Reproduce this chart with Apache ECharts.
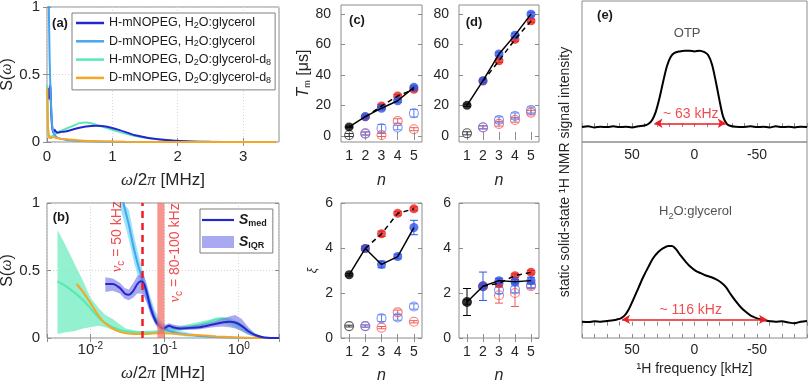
<!DOCTYPE html>
<html>
<head>
<meta charset="utf-8">
<title>Spectral density, T_m and 1H spectra</title>
<script src="https://cdn.jsdelivr.net/npm/echarts@6.0.0/dist/echarts.min.js"></script>
<style>
  html, body { margin: 0; padding: 0; background: #ffffff; }
  #chart { width: 809px; height: 386px; }
</style>
</head>
<body>
<div id="chart"></div>
<script>
// ---------- (a), (b): spectral density S(w) vs w/2pi [MHz] ----------
// H-mNOPEG, H2O:glycerol  (median + interquartile range in (b))
const hhFreq = [0.0159, 0.02, 0.025, 0.029, 0.033, 0.038, 0.043, 0.048, 0.053, 0.058, 0.065, 0.075, 0.085, 0.095, 0.105, 0.115, 0.13, 0.16, 0.22, 0.3, 0.45, 0.6, 0.75, 0.9, 1.1, 1.35, 1.7, 2.2, 3.5];
const hhS   = [0.40, 0.40, 0.37, 0.33, 0.32, 0.35, 0.40, 0.42, 0.40, 0.33, 0.22, 0.13, 0.09, 0.07, 0.08, 0.09, 0.08, 0.07, 0.075, 0.08, 0.10, 0.115, 0.12, 0.115, 0.09, 0.05, 0.02, 0.004, 0];
const hhLo  = [0.34, 0.35, 0.33, 0.29, 0.28, 0.30, 0.33, 0.33, 0.31, 0.26, 0.17, 0.10, 0.06, 0.05, 0.06, 0.07, 0.065, 0.06, 0.06, 0.065, 0.08, 0.085, 0.08, 0.07, 0.05, 0.025, 0.008, 0.001, 0];
const hhHi  = [0.45, 0.44, 0.41, 0.37, 0.36, 0.41, 0.46, 0.47, 0.46, 0.39, 0.27, 0.16, 0.12, 0.10, 0.10, 0.11, 0.10, 0.09, 0.09, 0.10, 0.12, 0.145, 0.16, 0.17, 0.14, 0.08, 0.03, 0.008, 0];

// D-mNOPEG, H2O:glycerol
const dhFreq = [0.02, 0.024, 0.028, 0.033, 0.038, 0.043, 0.048, 0.055, 0.065, 0.075, 0.085, 0.1, 0.12, 0.15, 0.2, 0.3, 0.5, 1.0, 2.0, 3.5];
const dhS    = [1.6, 1.25, 1.0, 0.84, 0.68, 0.56, 0.47, 0.36, 0.24, 0.15, 0.10, 0.07, 0.05, 0.035, 0.025, 0.015, 0.008, 0.002, 0, 0];
const dhLo   = [1.42, 1.1, 0.88, 0.73, 0.58, 0.47, 0.39, 0.29, 0.18, 0.11, 0.07, 0.045, 0.03, 0.02, 0.012, 0.006, 0.002, 0, 0, 0];
const dhHi   = [1.8, 1.4, 1.12, 0.95, 0.78, 0.65, 0.55, 0.43, 0.30, 0.20, 0.14, 0.10, 0.075, 0.055, 0.04, 0.025, 0.014, 0.005, 0, 0];

// H-mNOPEG, D2O:glycerol-d8
const hdFreq = [0.0036, 0.0045, 0.006, 0.008, 0.01, 0.013, 0.016, 0.02, 0.025, 0.03, 0.04, 0.05, 0.07, 0.1, 0.15, 0.2, 0.3, 0.4, 0.5, 0.6, 0.8, 1.0, 1.3, 1.6, 2.0, 2.5, 3.5];
const hdS    = [0.42, 0.39, 0.34, 0.28, 0.22, 0.15, 0.11, 0.08, 0.06, 0.05, 0.042, 0.04, 0.04, 0.05, 0.065, 0.08, 0.10, 0.12, 0.14, 0.145, 0.12, 0.09, 0.05, 0.025, 0.008, 0.002, 0];
const hdLo   = [0.03, 0.04, 0.05, 0.07, 0.08, 0.09, 0.08, 0.06, 0.045, 0.035, 0.03, 0.03, 0.03, 0.04, 0.05, 0.06, 0.08, 0.10, 0.11, 0.11, 0.09, 0.065, 0.03, 0.012, 0.002, 0, 0];
const hdHi   = [0.80, 0.70, 0.56, 0.42, 0.30, 0.22, 0.17, 0.14, 0.10, 0.07, 0.055, 0.05, 0.055, 0.065, 0.08, 0.10, 0.12, 0.135, 0.15, 0.155, 0.145, 0.12, 0.075, 0.04, 0.015, 0.004, 0];

// D-mNOPEG, D2O:glycerol-d8
const ddFreq = [0.0065, 0.008, 0.01, 0.012, 0.015, 0.02, 0.025, 0.03, 0.04, 0.06, 0.08, 0.1, 0.15, 0.2, 0.3, 0.5, 0.8, 1.2, 2.0, 3.5];
const ddS    = [0.40, 0.34, 0.26, 0.19, 0.12, 0.07, 0.045, 0.035, 0.03, 0.03, 0.035, 0.035, 0.03, 0.025, 0.02, 0.012, 0.006, 0.002, 0, 0];

// cut-off frequencies marked in (b), MHz
const nuC = 0.05;
const nuCRange = [0.08, 0.1];

// ---------- (c), (d): T_m [us] and xi vs n ----------
// index 0 is the n = 1 reference point (drawn black)
const nVals = [1, 2, 3, 4, 5];

const cTmBlue = [5.9, 12.7, 18.2, 23.1, 31.9];
const cTmRed  = [5.9, 12.5, 19.7, 26.2, 30.6];
const cTmBlueErr = [0.5, 0.8, 1.0, 1.0, 1.0];
const cTmRedErr  = [0.5, 0.8, 1.0, 1.0, 1.0];
const cTmBlueOpen = [0.6, 1.7, 5.0, 5.5, 14.9];
const cTmRedOpen  = [0.6, 1.5, 0.6, 9.8, 4.4];
const cTmBlueOpenErr = [1.0, 1.0, 2.5, 1.5, 2.5];
const cTmRedOpenErr  = [1.0, 1.0, 1.0, 1.5, 1.0];

const dTmBlue = [20.1, 36.3, 53.8, 66.2, 80.0];
const dTmRed  = [20.1, 36.0, 49.4, 63.4, 75.6];
const dTmBlueErr = [0.8, 1.0, 1.2, 1.2, 1.2];
const dTmRedErr  = [0.8, 1.0, 1.2, 1.2, 1.2];
const dTmBlueOpen = [1.7, 5.7, 10.5, 13.1, 17.0];
const dTmRedOpen  = [1.7, 5.5, 7.9, 10.5, 15.3];
const dTmBlueOpenErr = [1.0, 1.0, 2.0, 2.0, 2.0];
const dTmRedOpenErr  = [1.0, 1.0, 1.5, 1.5, 1.5];

const cXiBlue = [2.81, 3.98, 3.27, 3.62, 4.91];
const cXiRed  = [2.81, 3.98, 4.63, 5.54, 5.74];
const cXiBlueErr = [0.05, 0.08, 0.15, 0.10, 0.32];
const cXiRedErr  = [0.05, 0.08, 0.12, 0.08, 0.08];
const cXiBlueOpen = [0.53, 0.53, 0.88, 0.91, 1.40];
const cXiRedOpen  = [0.53, 0.53, 0.46, 1.14, 0.72];
const cXiBlueOpenErr = [0.04, 0.05, 0.15, 0.12, 0.12];
const cXiRedOpenErr  = [0.04, 0.05, 0.05, 0.10, 0.05];

const dXiBlue = [1.6, 2.3, 2.55, 2.5, 2.55];
const dXiRed  = [1.6, 2.3, 2.43, 2.77, 2.92];
const dXiBlueErr = [0.6, 0.63, 0.10, 0.10, 0.15];
const dXiRedErr  = [0.6, 0.05, 0.08, 0.08, 0.08];
const dXiBlueOpen = [1.6, 2.3, 2.13, 2.16, 2.36];
const dXiRedOpen  = [1.6, 2.3, 1.9, 2.0, 2.3];
const dXiBlueOpenErr = [0.1, 0.1, 0.15, 0.15, 0.12];
const dXiRedOpenErr  = [0.1, 0.1, 0.35, 0.6, 0.1];

// ---------- (e): static 1H spectra, frequency in kHz ----------
const otpFreq = [90, 85, 80, 75, 70, 65, 60, 55, 50, 45, 40, 37, 34, 31, 28, 25, 22, 19, 16, 12, 8, 4, 0, -4, -8, -11, -14, -17, -20, -23, -26, -29, -33, -38, -45, -50, -55, -60, -65, -70, -75, -80, -85, -90];
const otpInt  = [0.00, 0.01, -0.005, 0.005, 0.0, 0.01, 0.0, 0.005, -0.005, 0.01, 0.02, 0.04, 0.09, 0.2, 0.38, 0.6, 0.8, 0.92, 0.97, 0.99, 1.0, 1.0, 0.99, 1.0, 0.98, 0.94, 0.82, 0.6, 0.35, 0.13, 0.04, 0.015, 0.005, 0.0, 0.01, 0.0, 0.005, -0.005, 0.01, 0.0, 0.005, -0.005, 0.005, 0.0];
const glyFreq = [90, 85, 80, 75, 70, 65, 62, 59, 56, 53, 49, 45, 41, 37, 33, 29, 25, 21, 18, 15, 11, 7, 3, -1, -5, -9, -13, -17, -21, -25, -29, -33, -37, -41, -45, -49, -53, -57, -61, -65, -70, -75, -80, -85, -90];
const glyInt  = [0.0, -0.005, 0.005, 0.0, 0.01, 0.02, 0.03, 0.045, 0.08, 0.15, 0.29, 0.44, 0.59, 0.72, 0.84, 0.92, 0.97, 1.0, 1.0, 0.96, 0.87, 0.79, 0.72, 0.67, 0.64, 0.61, 0.59, 0.56, 0.52, 0.46, 0.36, 0.27, 0.19, 0.13, 0.08, 0.05, 0.03, 0.015, 0.005, 0.0, 0.005, -0.01, -0.02, 0.0, 0.01];
const otpWidth = [32, -25];   // arrow ends, kHz
const glyWidth = [58, -58];

// ---------- styling ----------
const FONT = '"Liberation Sans", Arial, Helvetica, sans-serif';
const SERIF = '"Liberation Serif", "DejaVu Serif", serif';
const TXT = '#262626';
const BOX = '#8c8c8c';
const C_HH = '#2626cf', C_DH = '#45a5ee', C_HD = '#58e8b4', C_DD = '#f6a623';
const RED = '#e8231f', BLUE = '#2e55e6', OPEN_RED = '#f25a5a', OPEN_BLUE = '#5b7df2';
const NOTE_RED = '#ee1d23';
const IQR_FILL = 'rgba(112, 112, 232, 0.6)';
const DOTTED = { show: true, lineStyle: { color: '#d6d6d6', type: [1, 2] } };

const RICH = {
  sub: { fontSize: 9, lineHeight: 9, verticalAlign: 'bottom' },
  sup: { fontSize: 10, lineHeight: 10, verticalAlign: 'top' },
  g: { fontFamily: SERIF, fontStyle: 'italic' },
  it: { fontStyle: 'italic' }
};

const pairs = (xs, ys) => xs.map((x, i) => [x, ys[i]]);

function ax(grid, pos, min, max, showLabels, extra) {
  const a = {
    gridIndex: grid, position: pos, type: 'value', min: min, max: max,
    axisLine: { show: false },
    axisTick: { show: true, inside: true, length: 4, lineStyle: { color: BOX, width: 1 } },
    axisLabel: { show: showLabels, color: TXT, fontFamily: FONT, fontSize: 14, margin: 7, rich: RICH },
    splitLine: { show: false },
    nameTextStyle: { color: TXT, fontFamily: FONT, fontSize: 16, rich: RICH }
  };
  return echarts.util.merge(a, extra || {}, true);
}
const ticks = (vals) => ({ axisTick: { customValues: vals }, axisLabel: { customValues: vals } });

function logLabel(v) {
  const e = Math.round(Math.log10(v));
  return Math.abs(Math.log10(v) - e) < 1e-6 ? '10{sup|' + e + '}' : '';
}

const gridBox = (left, top, width, height) => ({
  left, top, width, height, show: true, borderColor: BOX, borderWidth: 1,
  backgroundColor: 'transparent', containLabel: false, outerBoundsMode: 'none'
});

// ---------- axes ----------
const xAxes = [
  ax(0, 'bottom', 0, 3.55, true, echarts.util.merge(ticks([0, 1, 2, 3]), {
    axisLabel: { fontSize: 15 },
    name: '{g|ω}/2{g|π} [MHz]', nameLocation: 'middle', nameGap: 30,
    nameTextStyle: { fontSize: 17 },
    splitLine: DOTTED
  }, true)),
  ax(0, 'top', 0, 3.55, false, ticks([1, 2, 3])),
  ax(1, 'bottom', 0.0026, 3.5, true, {
    type: 'log', logBase: 10,
    axisLabel: { formatter: logLabel, lineHeight: 18, margin: 3, fontSize: 15 },
    name: '{g|ω}/2{g|π} [MHz]', nameLocation: 'middle', nameGap: 27,
    nameTextStyle: { fontSize: 17 },
    splitLine: DOTTED
  }),
  ax(1, 'top', 0.0026, 3.5, false, { type: 'log', logBase: 10 })
];
const yAxes = [
  ax(0, 'left', 0, 1, true, {
    interval: 0.5, axisLabel: { fontSize: 15 },
    name: 'S({g|ω})', nameLocation: 'middle', nameGap: 30, splitLine: DOTTED
  }),
  ax(0, 'right', 0, 1, false, { interval: 0.5 }),
  ax(1, 'left', 0, 1, true, {
    interval: 0.5, axisLabel: { fontSize: 15 },
    name: 'S({g|ω})', nameLocation: 'middle', nameGap: 30, splitLine: DOTTED
  }),
  ax(1, 'right', 0, 1, false, { interval: 0.5 })
];
// grids 2..5: (c) top, (d) top, (c) bottom, (d) bottom
[2, 3, 4, 5].forEach((g) => {
  const upper = g < 4;
  const yr = upper ? [-4, 86] : [0, 6];
  const yt = upper ? [0, 20, 40, 60, 80] : [0, 2, 4, 6];
  xAxes.push(ax(g, 'bottom', 0.5, 5.5, true, echarts.util.merge(ticks(nVals), {
    name: '{it|n}', nameLocation: 'middle', nameGap: upper ? 31 : 30
  }, true)));
  xAxes.push(ax(g, 'top', 0.5, 5.5, false, ticks(nVals)));
  const yExtra = echarts.util.merge(ticks(yt), { axisLabel: { margin: upper ? 10 : 8 } }, true);
  if (g === 2) {
    yExtra.name = '{it|T}{sub|m} [μs]';
    yExtra.nameLocation = 'middle';
    yExtra.nameGap = 29;
  }
  if (g === 4) {
    yExtra.name = 'ξ';
    yExtra.nameLocation = 'middle';
    yExtra.nameGap = 22;
    yExtra.nameTextStyle = { fontStyle: 'italic', fontSize: 12 };
  }
  yAxes.push(ax(g, 'left', yr[0], yr[1], true, yExtra));
  yAxes.push(ax(g, 'right', yr[0], yr[1], false, ticks(yt)));
});
// (e): x axes 12 (upper, bottom), 13 (lower, top), 14 (lower, bottom); y axes 12, 13
const khzLabel = (v) => (v === 50 || v === 0 || v === -50) ? String(v) : '';
xAxes.push(ax(6, 'bottom', -90, 90, true, { inverse: true, interval: 10, axisLabel: { formatter: khzLabel, margin: 6 } }));
xAxes.push(ax(7, 'top', -90, 90, false, { inverse: true, interval: 10 }));
xAxes.push(ax(7, 'bottom', -90, 90, true, {
  inverse: true, interval: 10, axisLabel: { formatter: khzLabel, margin: 5 },
  name: '¹H frequency [kHz]', nameLocation: 'middle', nameGap: 20, nameTextStyle: { fontSize: 14 }
}));
yAxes.push(ax(6, 'left', -0.195, 1.65, false, { axisTick: { show: false } }));
yAxes.push(ax(7, 'left', -0.215, 2.37, false, { axisTick: { show: false } }));

// ---------- series helpers ----------
function curve(name, xi, xs, ys, color, z) {
  return {
    type: 'line', name, xAxisIndex: xi, yAxisIndex: xi, data: pairs(xs, ys),
    smooth: 0.3, symbol: 'none', silent: true, z: z || 3,
    lineStyle: { color, width: 2 }, itemStyle: { color }
  };
}
// shaded range between lo and hi, drawn as one polygon through the axes
function band(name, xi, xs, lo, hi, fill, z) {
  return {
    type: 'custom', name, xAxisIndex: xi, yAxisIndex: xi, silent: true, z: z || 2,
    data: xs.map((x, i) => [x, lo[i], hi[i]]),
    encode: { x: 0, y: [1, 2] },
    itemStyle: { color: fill },
    renderItem: (params, api) => {
      if (params.dataIndexInside !== 0) return null;
      const top = [], bottom = [];
      for (let j = 0; j < xs.length; j++) {
        top.push(api.coord([api.value(0, j), api.value(2, j)]));
        bottom.push(api.coord([api.value(0, j), api.value(1, j)]));
      }
      const pts = echarts.graphic.clipPointsByRect(top.concat(bottom.reverse()), params.coordSys);
      return { type: 'polygon', shape: { points: pts }, style: { fill, stroke: null } };
    }
  };
}

function rows(vals, errs, from, to) {
  const out = [];
  for (let i = from; i < to; i++) out.push(errs ? [nVals[i], vals[i], errs[i]] : [nVals[i], vals[i]]);
  return out;
}
function errRender(params, api) {
  const x = api.value(0), y = api.value(1), e = api.value(2);
  const lo = api.coord([x, y - e]), hi = api.coord([x, y + e]);
  const w = 4;
  const style = { stroke: api.visual('color'), lineWidth: 1, fill: null };
  return {
    type: 'group', children: [
      { type: 'line', shape: { x1: lo[0], y1: lo[1], x2: hi[0], y2: hi[1] }, style },
      { type: 'line', shape: { x1: lo[0] - w, y1: lo[1], x2: lo[0] + w, y2: lo[1] }, style },
      { type: 'line', shape: { x1: hi[0] - w, y1: hi[1], x2: hi[0] + w, y2: hi[1] }, style }
    ]
  };
}
function bars(g, data, color, z) {
  return { type: 'custom', xAxisIndex: 2 * g, yAxisIndex: 2 * g, data, silent: true, z,
    itemStyle: { color }, renderItem: errRender };
}
function dots(g, data, color, hollow, z) {
  return {
    type: 'scatter', xAxisIndex: 2 * g, yAxisIndex: 2 * g, data, symbol: 'circle', symbolSize: 9,
    silent: true, z,
    itemStyle: hollow ? { color: 'rgba(0,0,0,0)', borderColor: color, borderWidth: 1.1 } : { color }
  };
}
// g is the grid index of the panel
function nPanel(g, blue, red, blueErr, redErr, blueOpen, redOpen, blueOpenErr, redOpenErr) {
  return [
    bars(g, rows(redOpen, redOpenErr, 1, 5), OPEN_RED, 3),
    dots(g, rows(redOpen, null, 1, 5), OPEN_RED, true, 3),
    bars(g, rows(blueOpen, blueOpenErr, 1, 5), OPEN_BLUE, 3),
    dots(g, rows(blueOpen, null, 1, 5), OPEN_BLUE, true, 3),
    bars(g, rows(blueOpen, blueOpenErr, 0, 1), '#333333', 3),
    dots(g, rows(blueOpen, null, 0, 1), '#333333', true, 3),
    bars(g, rows(red, redErr, 1, 5), RED, 4),
    dots(g, rows(red, null, 1, 5), RED, false, 4),
    bars(g, rows(blue, blueErr, 1, 5), BLUE, 5),
    dots(g, rows(blue, null, 1, 5), BLUE, false, 5),
    bars(g, rows(blue, blueErr, 0, 1), '#000000', 5),
    dots(g, rows(blue, null, 0, 1), '#000000', false, 5),
    { type: 'line', xAxisIndex: 2 * g, yAxisIndex: 2 * g, data: rows(red, null, 1, 5), symbol: 'none',
      silent: true, z: 6, lineStyle: { color: '#000', width: 1.5, type: [5, 4] } },
    { type: 'line', xAxisIndex: 2 * g, yAxisIndex: 2 * g, data: rows(blue, null, 0, 5), symbol: 'none',
      silent: true, z: 6, lineStyle: { color: '#000', width: 1.5 } }
  ];
}
function note(xi, yi, items, z) {
  return {
    type: 'scatter', xAxisIndex: xi, yAxisIndex: yi, symbolSize: 0, silent: true, z: z || 8,
    data: items.map((it) => ({ value: it.at, label: { formatter: it.text, color: it.color || TXT, fontSize: it.size || 14 } })),
    label: { show: true, position: 'inside', fontFamily: FONT, fontSize: 14, lineHeight: 18, rich: RICH }
  };
}

const nuRich = {
  g: { fontFamily: SERIF, fontStyle: 'italic', fontSize: 15, color: NOTE_RED },
  sub: { fontSize: 10, lineHeight: 10, verticalAlign: 'bottom', color: NOTE_RED }
};

const series = [
  // (a)
  curve('HD', 0, hdFreq, hdS, C_HD),
  curve('HH', 0, hhFreq, hhS, C_HH),
  curve('DH', 0, dhFreq, dhS, C_DH),
  curve('DD', 0, ddFreq, ddS, C_DD),
  // (b)
  band('bandHD', 2, hdFreq, hdLo, hdHi, 'rgba(120, 238, 196, 0.8)', 2),
  band('bandDH', 2, dhFreq, dhLo, dhHi, 'rgba(118, 220, 246, 0.75)', 2),
  curve('b_HD', 2, hdFreq, hdS, C_HD),
  curve('b_DH', 2, dhFreq, dhS, C_DH),
  curve('b_DD', 2, ddFreq, ddS, C_DD),
  band('S_IQR', 2, hhFreq, hhLo, hhHi, IQR_FILL, 4),
  curve('S_med', 2, hhFreq, hhS, C_HH, 5),
  {
    type: 'scatter', xAxisIndex: 2, yAxisIndex: 2, symbolSize: 0, silent: true, z: 8,
    data: [
      { value: [0.0229, 0.75], label: { formatter: '{g|ν}{sub|c} = 50 kHz' } },
      { value: [0.139, 0.63], label: { formatter: '{g|ν}{sub|c} = 80-100 kHz' } }
    ],
    label: { show: true, position: 'inside', rotate: 90, color: NOTE_RED, fontFamily: FONT, fontSize: 14, lineHeight: 18, rich: nuRich },
    markArea: { silent: true, z: 10, itemStyle: { color: 'rgba(242, 110, 100, 0.72)' },
      data: [[{ xAxis: nuCRange[0] }, { xAxis: nuCRange[1] }]] },
    markLine: { silent: true, z: 11, symbol: ['none', 'none'], label: { show: false },
      lineStyle: { color: NOTE_RED, width: 2.5, type: [7, 5] }, data: [{ xAxis: nuC }] }
  },
  // (c), (d)
  ...nPanel(2, cTmBlue, cTmRed, cTmBlueErr, cTmRedErr, cTmBlueOpen, cTmRedOpen, cTmBlueOpenErr, cTmRedOpenErr),
  ...nPanel(3, dTmBlue, dTmRed, dTmBlueErr, dTmRedErr, dTmBlueOpen, dTmRedOpen, dTmBlueOpenErr, dTmRedOpenErr),
  ...nPanel(4, cXiBlue, cXiRed, cXiBlueErr, cXiRedErr, cXiBlueOpen, cXiRedOpen, cXiBlueOpenErr, cXiRedOpenErr),
  ...nPanel(5, dXiBlue, dXiRed, dXiBlueErr, dXiRedErr, dXiBlueOpen, dXiRedOpen, dXiBlueOpenErr, dXiRedOpenErr),
  // (e)
  {
    type: 'line', xAxisIndex: 12, yAxisIndex: 12, data: pairs(otpFreq, otpInt), smooth: 0.3,
    symbol: 'none', silent: true, z: 3, lineStyle: { color: '#000', width: 2 },
    markLine: { silent: true, symbol: ['arrow', 'arrow'], symbolSize: [7, 8], label: { show: false },
      lineStyle: { color: NOTE_RED, width: 1.5, type: 'solid' },
      data: [[{ coord: [otpWidth[0], 0.05] }, { coord: [otpWidth[1], 0.05] }]] }
  },
  {
    type: 'line', xAxisIndex: 14, yAxisIndex: 13, data: pairs(glyFreq, glyInt), smooth: 0.3,
    symbol: 'none', silent: true, z: 3, lineStyle: { color: '#000', width: 2 },
    markLine: { silent: true, symbol: ['arrow', 'arrow'], symbolSize: [7, 8], label: { show: false },
      lineStyle: { color: NOTE_RED, width: 1.5, type: 'solid' },
      data: [[{ coord: [glyWidth[0], 0.03] }, { coord: [glyWidth[1], 0.03] }]] }
  },
  note(12, 12, [
    { at: [5.9, 1.22], text: 'OTP', size: 13 },
    { at: [3, 0.165], text: '~ 63 kHz', color: NOTE_RED }
  ]),
  note(14, 13, [
    { at: [-0.8, 1.45], text: 'H{sub|2}O:glycerol', size: 13 },
    { at: [3, 0.155], text: '~ 116 kHz', color: NOTE_RED }
  ])
];

const legendNames = {
  HH: 'H-mNOPEG, H{sub|2}O:glycerol',
  DH: 'D-mNOPEG, H{sub|2}O:glycerol',
  HD: 'H-mNOPEG, D{sub|2}O:glycerol-d{sub|8}',
  DD: 'D-mNOPEG, D{sub|2}O:glycerol-d{sub|8}',
  S_med: '{S|S}{s|med}',
  S_IQR: '{S|S}{s|IQR}'
};
const LINE_ICON = 'path://M0,0h32v2.2h-32z';

const letter = (text, x, y) => ({
  type: 'text', x, y, silent: true,
  style: { text, fontFamily: FONT, fontSize: 13, fontWeight: 'bold', fill: '#1a1a1a', align: 'center', verticalAlign: 'middle' }
});

const option = {
  animation: false,
  backgroundColor: '#ffffff',
  textStyle: { fontFamily: FONT },
  grid: [
    gridBox(47, 7, 232, 135),
    gridBox(47, 203, 232, 135),
    gridBox(341, 5, 81, 137),
    gridBox(459, 5, 80, 137),
    gridBox(341, 203, 81, 135),
    gridBox(459, 203, 80, 135),
    gridBox(582, 1, 225, 141),
    gridBox(582, 142, 225, 196)
  ],
  xAxis: xAxes,
  yAxis: yAxes,
  legend: [
    {
      data: ['HH', 'DH', 'HD', 'DD'].map((n) => ({ name: n, icon: 'rect' })),
      orient: 'vertical', left: 72, top: 13,
      selectedMode: false, backgroundColor: '#ffffff', borderColor: '#7f7f7f', borderWidth: 1,
      padding: [3, 4, 5, 4], itemGap: 4.3, itemWidth: 28, itemHeight: 2.5,
      formatter: (n) => legendNames[n],
      textStyle: { color: '#1a1a1a', fontFamily: FONT, fontSize: 12.5, lineHeight: 14, rich: RICH }
    },
    {
      data: [{ name: 'S_med', icon: LINE_ICON, itemStyle: { color: C_HH } },
        { name: 'S_IQR', icon: 'rect', itemStyle: { color: IQR_FILL } }],
      orient: 'vertical', left: 200, top: 209, symbolKeepAspect: true,
      selectedMode: false, backgroundColor: '#ffffff', borderColor: '#7f7f7f', borderWidth: 1,
      padding: [3, 6, 3, 2], itemGap: 6, itemWidth: 32, itemHeight: 12,
      formatter: (n) => legendNames[n],
      textStyle: {
        color: '#1a1a1a', fontFamily: FONT, fontSize: 13, lineHeight: 16,
        rich: {
          S: { fontSize: 14, fontWeight: 'bold', fontStyle: 'italic', lineHeight: 16 },
          s: { fontSize: 9, fontWeight: 'bold', lineHeight: 9, verticalAlign: 'bottom' }
        }
      }
    }
  ],
  graphic: [
    letter('(a)', 60, 23),
    letter('(b)', 61, 217),
    letter('(c)', 357, 20),
    letter('(d)', 474, 22),
    letter('(e)', 605, 15),
    {
      type: 'text', x: 565, y: 172, rotation: Math.PI / 2, silent: true,
      style: { text: 'static solid-state ¹H NMR signal intensity', fontFamily: FONT, fontSize: 14,
        fill: TXT, align: 'center', verticalAlign: 'middle' }
    }
  ],
  series
};

const chart = echarts.init(document.getElementById('chart'), null, { renderer: 'canvas' });
chart.setOption(option);
window.addEventListener('resize', () => chart.resize());
</script>
</body>
</html>
